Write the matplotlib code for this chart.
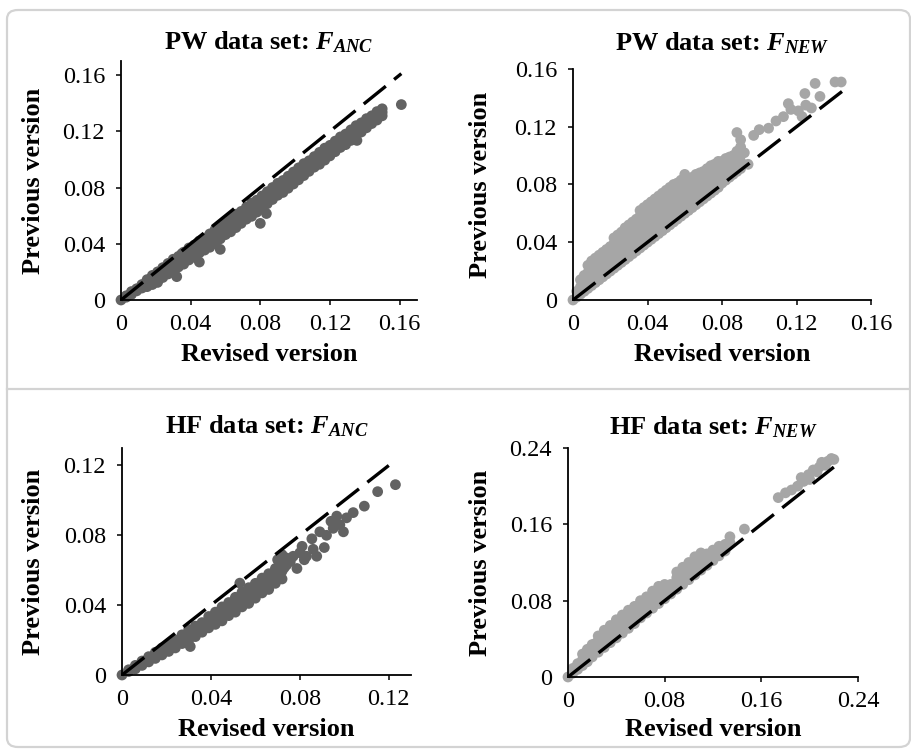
import matplotlib
matplotlib.use("Agg")
import matplotlib.pyplot as plt
from matplotlib.patches import FancyBboxPatch
from matplotlib.lines import Line2D

# ---------------- data ----------------
# PW data set: F_ANC  (revised = x, previous = y); dense band read as upper / middle / lower rows
pw_anc_x = [0.003, 0.006, 0.009, 0.012, 0.015, 0.018, 0.021, 0.024, 0.027, 0.030, 0.033,
            0.036, 0.039, 0.042, 0.045, 0.048, 0.051, 0.054, 0.057, 0.060, 0.063, 0.066,
            0.069, 0.072, 0.075, 0.078, 0.081, 0.084, 0.087, 0.090, 0.093, 0.096, 0.099,
            0.102, 0.105, 0.108, 0.111, 0.114, 0.117, 0.120, 0.123, 0.126, 0.129, 0.132,
            0.135, 0.138, 0.141, 0.144, 0.147, 0.150]
pw_anc_upper = [0.003, 0.006, 0.008, 0.011, 0.0145, 0.0175, 0.020, 0.023, 0.026, 0.029, 0.031,
                0.034, 0.037, 0.039, 0.042, 0.044, 0.047, 0.050, 0.052, 0.055, 0.058, 0.061,
                0.063, 0.066, 0.069, 0.071, 0.074, 0.077, 0.080, 0.083, 0.085, 0.088, 0.091,
                0.094, 0.097, 0.099, 0.102, 0.105, 0.108, 0.110, 0.113, 0.116, 0.118, 0.121,
                0.124, 0.126, 0.129, 0.131, 0.134, 0.136]
pw_anc_mid = [0.0025, 0.005, 0.0075, 0.010, 0.0125, 0.015, 0.0175, 0.020, 0.0225, 0.025, 0.0275,
              0.030, 0.0325, 0.035, 0.0375, 0.040, 0.0425, 0.0455, 0.048, 0.051, 0.0535, 0.0565,
              0.059, 0.062, 0.0645, 0.067, 0.070, 0.073, 0.076, 0.079, 0.081, 0.084, 0.087,
              0.090, 0.093, 0.0955, 0.0985, 0.101, 0.104, 0.1065, 0.1095, 0.1125, 0.1145, 0.1175,
              0.1205, 0.123, 0.126, 0.1285, 0.131, 0.1335]
pw_anc_lower = [0.002, 0.004, 0.0065, 0.0085, 0.0095, 0.011, 0.0135, 0.016, 0.0185, 0.0205, 0.0235,
                0.0255, 0.0285, 0.0305, 0.0335, 0.0355, 0.0375, 0.0405, 0.0435, 0.0465, 0.0485, 0.0515,
                0.0545, 0.0575, 0.0595, 0.0625, 0.0655, 0.0685, 0.0715, 0.0745, 0.0765, 0.0795, 0.0825,
                0.0855, 0.0885, 0.0915, 0.0945, 0.0965, 0.0995, 0.1025, 0.1055, 0.1085, 0.1105, 0.1135,
                0.1165, 0.1195, 0.1225, 0.1255, 0.128, 0.131]
pw_anc_extra_x = [0.000, 0.161, 0.080, 0.0835, 0.1355, 0.057, 0.032, 0.045, 0.035, 0.021]
pw_anc_extra_y = [0.000, 0.139, 0.0545, 0.0615, 0.1135, 0.036, 0.0166, 0.027, 0.033, 0.0125]

# PW data set: F_NEW (cloud above the diagonal)
pw_new_x = [0.000, 0.002, 0.002, 0.004, 0.004, 0.004, 0.006, 0.006, 0.006,
            0.008, 0.008, 0.008, 0.008, 0.010, 0.010, 0.010, 0.010,
            0.012, 0.012, 0.012, 0.012, 0.014, 0.014, 0.014, 0.014,
            0.016, 0.016, 0.016, 0.016, 0.018, 0.018, 0.018, 0.018,
            0.020, 0.020, 0.020, 0.020,
            0.022, 0.022, 0.022, 0.022, 0.022, 0.024, 0.024, 0.024, 0.024, 0.024,
            0.026, 0.026, 0.026, 0.026, 0.026, 0.028, 0.028, 0.028, 0.028, 0.028,
            0.030, 0.030, 0.030, 0.030, 0.030, 0.032, 0.032, 0.032, 0.032, 0.032,
            0.034, 0.034, 0.034, 0.034, 0.034,
            0.036, 0.036, 0.036, 0.036, 0.036, 0.036, 0.038, 0.038, 0.038, 0.038, 0.038, 0.038,
            0.040, 0.040, 0.040, 0.040, 0.040, 0.040, 0.042, 0.042, 0.042, 0.042, 0.042, 0.042,
            0.044, 0.044, 0.044, 0.044, 0.044, 0.044, 0.046, 0.046, 0.046, 0.046, 0.046, 0.046,
            0.048, 0.048, 0.048, 0.048, 0.048, 0.048, 0.050, 0.050, 0.050, 0.050, 0.050, 0.050,
            0.052, 0.052, 0.052, 0.052, 0.052, 0.052, 0.054, 0.054, 0.054, 0.054, 0.054, 0.054,
            0.056, 0.056, 0.056, 0.056, 0.056, 0.056, 0.058, 0.058, 0.058, 0.058, 0.058, 0.058,
            0.060, 0.060, 0.060, 0.060, 0.060, 0.060, 0.062, 0.062, 0.062, 0.062, 0.062,
            0.064, 0.064, 0.064, 0.064, 0.064, 0.066, 0.066, 0.066, 0.066, 0.066,
            0.068, 0.068, 0.068, 0.068, 0.068, 0.070, 0.070, 0.070, 0.070, 0.070,
            0.072, 0.072, 0.072, 0.072, 0.072, 0.074, 0.074, 0.074, 0.074, 0.074,
            0.076, 0.076, 0.076, 0.076, 0.076, 0.078, 0.078, 0.078, 0.078, 0.078,
            0.080, 0.080, 0.080, 0.080, 0.082, 0.082, 0.082, 0.082,
            0.084, 0.084, 0.084, 0.084, 0.086, 0.086, 0.086, 0.086,
            0.088, 0.088, 0.088, 0.088, 0.090, 0.090, 0.090, 0.090,
            0.088, 0.090, 0.092, 0.094, 0.097, 0.100, 0.105, 0.109, 0.113, 0.1156, 0.117,
            0.121, 0.123, 0.1245, 0.125, 0.128, 0.130, 0.1326, 0.1407, 0.144]
pw_new_y = [0.000, 0.002, 0.006, 0.004, 0.009, 0.014, 0.006, 0.011, 0.017,
            0.008, 0.013, 0.019, 0.024, 0.010, 0.015, 0.021, 0.027,
            0.012, 0.017, 0.023, 0.029, 0.014, 0.019, 0.025, 0.031,
            0.016, 0.021, 0.027, 0.033, 0.018, 0.023, 0.029, 0.035,
            0.020, 0.025, 0.031, 0.037,
            0.022, 0.027, 0.033, 0.039, 0.043, 0.024, 0.029, 0.035, 0.041, 0.045,
            0.026, 0.031, 0.037, 0.042, 0.047, 0.028, 0.033, 0.039, 0.044, 0.050,
            0.030, 0.035, 0.041, 0.046, 0.052, 0.032, 0.038, 0.043, 0.049, 0.054,
            0.034, 0.040, 0.045, 0.051, 0.056,
            0.036, 0.042, 0.047, 0.053, 0.058, 0.062, 0.038, 0.044, 0.049, 0.055, 0.060, 0.064,
            0.040, 0.046, 0.051, 0.057, 0.062, 0.066, 0.042, 0.048, 0.053, 0.059, 0.064, 0.068,
            0.044, 0.050, 0.055, 0.061, 0.066, 0.070, 0.046, 0.052, 0.057, 0.063, 0.068, 0.072,
            0.048, 0.054, 0.059, 0.064, 0.070, 0.074, 0.050, 0.056, 0.061, 0.066, 0.072, 0.076,
            0.052, 0.058, 0.063, 0.068, 0.073, 0.078, 0.054, 0.060, 0.065, 0.070, 0.075, 0.080,
            0.056, 0.062, 0.067, 0.072, 0.077, 0.081, 0.058, 0.064, 0.069, 0.074, 0.079, 0.083,
            0.060, 0.065, 0.070, 0.075, 0.080, 0.087, 0.062, 0.067, 0.072, 0.077, 0.083,
            0.064, 0.069, 0.074, 0.079, 0.085, 0.066, 0.071, 0.076, 0.081, 0.087,
            0.068, 0.073, 0.078, 0.083, 0.088, 0.070, 0.075, 0.080, 0.085, 0.089,
            0.072, 0.077, 0.082, 0.087, 0.091, 0.074, 0.079, 0.084, 0.089, 0.093,
            0.076, 0.081, 0.086, 0.091, 0.094, 0.078, 0.083, 0.088, 0.093, 0.096,
            0.081, 0.086, 0.091, 0.096, 0.083, 0.088, 0.093, 0.098,
            0.085, 0.090, 0.095, 0.099, 0.087, 0.092, 0.097, 0.100,
            0.089, 0.094, 0.099, 0.103, 0.091, 0.096, 0.101, 0.106,
            0.116, 0.111, 0.102, 0.094, 0.114, 0.118, 0.119, 0.124, 0.127, 0.136, 0.132,
            0.131, 0.127, 0.143, 0.135, 0.133, 0.150, 0.141, 0.151, 0.151]

# HF data set: F_ANC; dense band as upper / middle / lower rows plus scattered points
hf_anc_x = [0.003, 0.006, 0.009, 0.012, 0.015, 0.018, 0.021, 0.024, 0.027, 0.030, 0.033, 0.036,
            0.039, 0.042, 0.045, 0.048, 0.051, 0.054, 0.057, 0.060, 0.063, 0.066, 0.069, 0.072]
hf_anc_upper = [0.003, 0.0055, 0.008, 0.0105, 0.013, 0.0155, 0.0175, 0.020, 0.023, 0.026, 0.028,
                0.030, 0.0335, 0.036, 0.039, 0.0415, 0.0445, 0.0475, 0.050, 0.0525, 0.0555, 0.058,
                0.061, 0.064]
hf_anc_mid = [0.0025, 0.0045, 0.007, 0.009, 0.0115, 0.0135, 0.0155, 0.018, 0.0205, 0.023, 0.025,
              0.0275, 0.030, 0.0325, 0.035, 0.0375, 0.040, 0.043, 0.0455, 0.048, 0.051, 0.0535,
              0.0565, 0.0595]
hf_anc_lower = [0.002, 0.0035, 0.0055, 0.0075, 0.0095, 0.0115, 0.0135, 0.0155, 0.018, 0.020, 0.022,
                0.0245, 0.027, 0.029, 0.031, 0.034, 0.036, 0.039, 0.041, 0.044, 0.047, 0.049,
                0.0525, 0.055]
hf_anc_extra_x = [0.000, 0.0307, 0.053, 0.070, 0.072, 0.073, 0.074, 0.074, 0.0757, 0.077, 0.0787,
                  0.080, 0.081, 0.082, 0.083, 0.0854, 0.086, 0.0876, 0.089, 0.091, 0.092, 0.094,
                  0.095, 0.0966, 0.098, 0.0996, 0.101, 0.104, 0.109, 0.115, 0.123]
hf_anc_extra_y = [0.000, 0.0163, 0.0526, 0.066, 0.0689, 0.0615, 0.067, 0.063, 0.065, 0.068, 0.061,
                  0.070, 0.0737, 0.066, 0.068, 0.078, 0.072, 0.068, 0.082, 0.073, 0.080, 0.088,
                  0.084, 0.091, 0.086, 0.082, 0.090, 0.093, 0.0967, 0.105, 0.109]

# HF data set: F_NEW
hf_new_x = [0.000, 0.004, 0.004, 0.008, 0.008, 0.012, 0.012, 0.012, 0.016, 0.016, 0.016,
            0.020, 0.020, 0.020, 0.025, 0.025, 0.025, 0.025, 0.030, 0.030, 0.030, 0.030,
            0.035, 0.035, 0.035, 0.035, 0.040, 0.040, 0.040, 0.040, 0.045, 0.045, 0.045, 0.045,
            0.050, 0.050, 0.050, 0.050, 0.055, 0.055, 0.055, 0.055, 0.060, 0.060, 0.060, 0.060,
            0.065, 0.065, 0.065, 0.065, 0.070, 0.070, 0.070, 0.070, 0.075, 0.075, 0.075, 0.075,
            0.080, 0.080, 0.080, 0.080, 0.085, 0.085, 0.085, 0.090, 0.090, 0.090, 0.090,
            0.095, 0.095, 0.095, 0.095, 0.100, 0.100, 0.100, 0.100, 0.105, 0.105, 0.105, 0.105,
            0.110, 0.110, 0.110, 0.110, 0.115, 0.115, 0.115, 0.120, 0.120, 0.120,
            0.125, 0.125, 0.125, 0.130, 0.130, 0.134, 0.134, 0.146,
            0.0225, 0.0325, 0.0425, 0.0525, 0.0625, 0.0725, 0.0925, 0.1025, 0.1125,
            0.174, 0.180, 0.185, 0.190, 0.195, 0.193, 0.199, 0.203, 0.200, 0.206,
            0.210, 0.215, 0.218, 0.213, 0.220, 0.208]
hf_new_y = [0.000, 0.004, 0.009, 0.008, 0.014, 0.012, 0.018, 0.024, 0.016, 0.022, 0.029,
            0.021, 0.027, 0.034, 0.026, 0.032, 0.038, 0.043, 0.031, 0.037, 0.043, 0.049,
            0.036, 0.042, 0.048, 0.054, 0.041, 0.047, 0.053, 0.060, 0.046, 0.052, 0.058, 0.065,
            0.051, 0.057, 0.063, 0.070, 0.056, 0.062, 0.068, 0.074, 0.062, 0.068, 0.074, 0.080,
            0.067, 0.073, 0.079, 0.084, 0.072, 0.078, 0.084, 0.090, 0.077, 0.083, 0.089, 0.095,
            0.082, 0.088, 0.094, 0.097, 0.087, 0.093, 0.097, 0.092, 0.098, 0.104, 0.110,
            0.097, 0.103, 0.109, 0.115, 0.102, 0.108, 0.114, 0.120, 0.107, 0.113, 0.119, 0.126,
            0.112, 0.118, 0.124, 0.130, 0.117, 0.123, 0.129, 0.122, 0.128, 0.133,
            0.127, 0.133, 0.137, 0.132, 0.139, 0.141, 0.147, 0.155,
            0.035, 0.046, 0.057, 0.067, 0.077, 0.087, 0.107, 0.117, 0.127,
            0.188, 0.193, 0.196, 0.200, 0.205, 0.209, 0.212, 0.217, 0.207, 0.215,
            0.225, 0.226, 0.229, 0.222, 0.228, 0.220]

titles = ["PW data set: $F_{ANC}$", "PW data set: $F_{NEW}$",
          "HF data set: $F_{ANC}$", "HF data set: $F_{NEW}$"]
xlabel = "Revised version"
ylabel = "Previous version"
ticks_pw = [0, 0.04, 0.08, 0.12, 0.16]
ticklabels_pw = ["0", "0.04", "0.08", "0.12", "0.16"]
ticks_hf_anc = [0, 0.04, 0.08, 0.12]
ticklabels_hf_anc = ["0", "0.04", "0.08", "0.12"]
ticks_hf_new = [0, 0.08, 0.16, 0.24]
ticklabels_hf_new = ["0", "0.08", "0.16", "0.24"]
line_end = [0.161, 0.145, 0.120, 0.220]

# ---------------- style ----------------
plt.rcParams["font.family"] = ["Liberation Serif", "DejaVu Serif"]
plt.rcParams["mathtext.fontset"] = "custom"
plt.rcParams["mathtext.it"] = "Liberation Serif:italic:bold"
plt.rcParams["mathtext.rm"] = "Liberation Serif:bold"
plt.rcParams["mathtext.bf"] = "Liberation Serif:bold"

DARK = "#626262"
LIGHT = "#a6a6a6"

W, H = 911, 749
fig = plt.figure(figsize=(W / 100, H / 100), dpi=100)

frame = FancyBboxPatch((7 / W, 1 - 747 / H), (910 - 7) / W, (747 - 10) / H,
                       boxstyle="round,pad=0,rounding_size=0.012",
                       transform=fig.transFigure, facecolor="none",
                       edgecolor="#d3d3d3", linewidth=1.6)
fig.patches.append(frame)
fig.add_artist(Line2D([7 / W, 911 / W], [1 - 389 / H, 1 - 389 / H],
                      transform=fig.transFigure, color="#d3d3d3", linewidth=1.6))


def px_rect(left, right, top, bottom):
    return [left / W, 1 - bottom / H, (right - left) / W, (bottom - top) / H]


panels = [
    dict(rect=px_rect(121, 417, 61, 300), lim=0.17, ticks=ticks_pw, tl=ticklabels_pw,
         x=pw_anc_x * 3 + pw_anc_extra_x,
         y=pw_anc_upper + pw_anc_mid + pw_anc_lower + pw_anc_extra_y,
         color=DARK, title_pad=8.0, ylab=-0.257, xlab=-0.18),
    dict(rect=px_rect(573, 871, 69, 300), lim=0.16, ticks=ticks_pw, tl=ticklabels_pw,
         x=pw_new_x, y=pw_new_y, color=LIGHT, title_pad=13.5, ylab=-0.272, xlab=-0.186),
    dict(rect=px_rect(122, 411, 448, 675), lim=0.13, ticks=ticks_hf_anc, tl=ticklabels_hf_anc,
         x=hf_anc_x * 3 + hf_anc_extra_x,
         y=hf_anc_upper + hf_anc_mid + hf_anc_lower + hf_anc_extra_y,
         color=DARK, title_pad=10.5, ylab=-0.266, xlab=-0.19),
    dict(rect=px_rect(568, 858, 448, 677), lim=0.24, ticks=ticks_hf_new, tl=ticklabels_hf_new,
         x=hf_new_x, y=hf_new_y, color=LIGHT, title_pad=10.0, ylab=-0.262, xlab=-0.179),
]

for i, p in enumerate(panels):
    ax = fig.add_axes(p["rect"])
    ax.scatter(p["x"], p["y"], s=60, color=p["color"], edgecolors="none",
               clip_on=False, zorder=2)
    ax.plot([0, line_end[i]], [0, line_end[i]], color="black", linewidth=2.4,
            linestyle=(0, (8.5, 3.2)), dash_capstyle="butt", clip_on=False, zorder=3)
    ax.set_xlim(0, p["lim"])
    ax.set_ylim(0, p["lim"])
    ax.set_xticks(p["ticks"])
    ax.set_xticklabels(p["tl"])
    ax.set_yticks(p["ticks"])
    ax.set_yticklabels(p["tl"])
    for s in ("top", "right"):
        ax.spines[s].set_visible(False)
    for s in ("left", "bottom"):
        ax.spines[s].set_linewidth(1.3)
        ax.spines[s].set_color("black")
    ax.tick_params(direction="out", length=3.5, width=1.1, labelsize=17.5)
    ax.tick_params(axis="x", pad=6.5)
    ax.tick_params(axis="y", pad=8.0)
    ax.set_xlabel(xlabel, fontsize=19, fontweight="bold")
    ax.set_ylabel(ylabel, fontsize=19, fontweight="bold")
    ax.xaxis.set_label_coords(0.5, p["xlab"])
    ax.yaxis.set_label_coords(p["ylab"], 0.5)
    ax.set_title(titles[i], fontsize=19, fontweight="bold", pad=p["title_pad"])
    ax.patch.set_alpha(0)

fig.savefig("out.png", dpi=100)
